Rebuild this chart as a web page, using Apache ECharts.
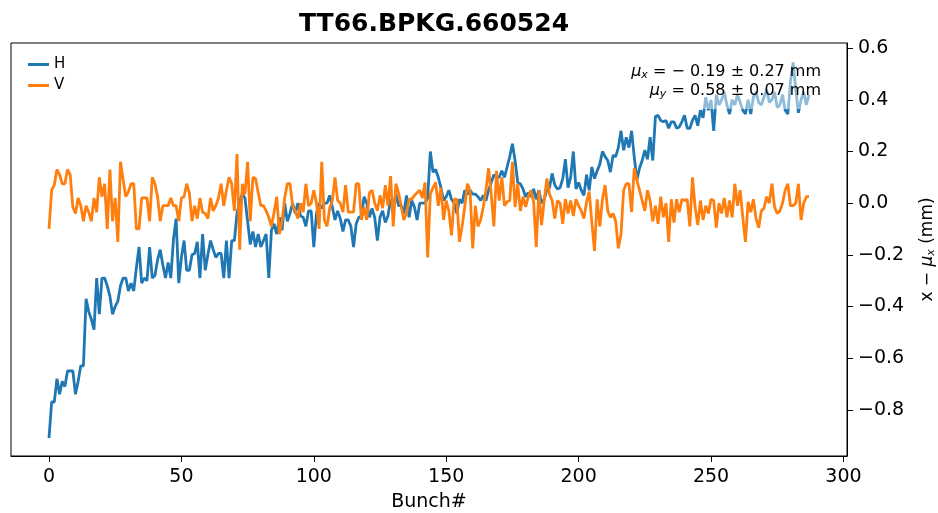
<!DOCTYPE html>
<html>
<head>
<meta charset="utf-8">
<title>TT66.BPKG.660524</title>
<style>
  body { margin: 0; background: #fff; }
  #chart { width: 938px; height: 513px; }
</style>
</head>
<body>
<div id="chart"></div>
<script src="https://cdn.jsdelivr.net/npm/echarts@6/dist/echarts.min.js"></script>
<script>
// H position minus mean, per bunch (mm)
var hValues = [
  -0.91, -0.77, -0.77, -0.68, -0.74, -0.69, -0.71, -0.65, -0.65, -0.65,
  -0.74, -0.69, -0.63, -0.63, -0.37, -0.42, -0.45, -0.49, -0.29, -0.43,
  -0.29, -0.29, -0.32, -0.36, -0.43, -0.40, -0.38, -0.32, -0.29, -0.29,
  -0.34, -0.31, -0.34, -0.25, -0.17, -0.31, -0.29, -0.30, -0.17, -0.29,
  -0.28, -0.22, -0.18, -0.24, -0.29, -0.23, -0.29, -0.14, -0.06, -0.31,
  -0.21, -0.145, -0.26, -0.26, -0.20, -0.195, -0.15, -0.29, -0.12, -0.26,
  -0.20, -0.145, -0.18, -0.21, -0.195, -0.195, -0.29, -0.145, -0.29, -0.145,
  -0.145, -0.04, 0.01, 0.035, 0.02, -0.07, -0.16, -0.11, -0.17, -0.12,
  -0.17, -0.145, -0.12, -0.29, -0.105, -0.08, -0.12, -0.055, -0.105, 0.0,
  -0.07, -0.04, 0.0, -0.04, 0.0, -0.05, -0.055, -0.09, -0.03, -0.03,
  -0.17, -0.04, 0.0, -0.02, 0.0, 0.0, 0.03, -0.015, -0.065, -0.03,
  -0.06, -0.11, -0.065, -0.065, -0.09, -0.17, -0.08, -0.055, -0.05, 0.025,
  0.0, -0.055, -0.02, -0.055, -0.145, -0.055, -0.03, -0.075, -0.05, 0.015,
  -0.02, 0.035, -0.01, -0.01, -0.04, 0.03, -0.055, 0.01, -0.015, -0.065,
  0.0, 0.0, 0.0, 0.02, 0.20, 0.12, 0.13, 0.10, 0.06, 0.01,
  0.025, 0.05, 0.015, 0.0, -0.04, 0.015, 0.0, 0.05, 0.035, 0.05,
  0.035, 0.035, 0.025, 0.01, 0.03, 0.01, 0.05, 0.08, 0.11, 0.10,
  0.10, 0.125, 0.10, 0.14, 0.18, 0.23, 0.165, 0.08, 0.075, 0.055,
  0.025, 0.04, 0.025, 0.055, 0.015, 0.05, 0.0, 0.015, 0.05, 0.06,
  0.115, 0.07, 0.055, 0.06, 0.095, 0.17, 0.06, 0.10, 0.20, 0.055,
  0.08, 0.05, 0.03, 0.11, 0.05, 0.14, 0.095, 0.125, 0.15, 0.20,
  0.18, 0.165, 0.12, 0.185, 0.18, 0.215, 0.28, 0.205, 0.255, 0.215,
  0.28, 0.18, 0.09, 0.135, 0.165, 0.205, 0.17, 0.255, 0.165, 0.335,
  0.34, 0.32, 0.315, 0.32, 0.29, 0.315, 0.315, 0.29, 0.295, 0.315,
  0.34, 0.29, 0.29, 0.32, 0.34, 0.30, 0.36, 0.33, 0.41, 0.36,
  0.40, 0.28, 0.42, 0.38, 0.40, 0.43, 0.38, 0.345, 0.40, 0.38,
  0.42, 0.39, 0.36, 0.345, 0.40, 0.345, 0.41, 0.43, 0.39, 0.38,
  0.41, 0.44, 0.39, 0.40, 0.43, 0.37, 0.38, 0.42, 0.36, 0.345,
  0.47, 0.545, 0.44, 0.35, 0.40, 0.43, 0.38, 0.42
];

// V position minus mean, per bunch (mm)
var vValues = [
  -0.10, 0.05, 0.07, 0.13, 0.11, 0.075, 0.075, 0.13, 0.11, -0.015,
  -0.04, 0.02, -0.01, -0.07, -0.01, -0.035, -0.07, 0.02, -0.035, 0.10,
  0.025, 0.075, -0.10, 0.13, -0.07, 0.02, -0.15, 0.16, 0.09, 0.025,
  0.045, 0.075, 0.075, -0.10, -0.10, 0.02, 0.02, 0.02, -0.07, 0.10,
  0.075, 0.025, -0.07, -0.01, -0.01, -0.01, 0.02, -0.01, -0.01, -0.07,
  0.02, 0.025, 0.075, 0.04, -0.07, -0.01, -0.06, 0.02, -0.035, -0.04,
  -0.06, 0.02, -0.03, -0.01, 0.02, 0.075, -0.01, 0.05, 0.10, 0.075,
  -0.03, 0.19, -0.18, 0.075, 0.035, 0.16, -0.07, 0.10, 0.095, 0.04,
  -0.01, -0.01, -0.03, -0.055, -0.09, -0.035, 0.025, -0.12, -0.07, 0.02,
  0.075, 0.075, -0.01, -0.03, -0.06, 0.0, -0.035, 0.075, -0.01, 0.0,
  0.05, 0.0, -0.10, 0.16, -0.065, -0.09, -0.02, 0.01, 0.10, 0.01,
  0.0, -0.035, 0.07, -0.035, -0.035, -0.035, 0.075, 0.075, -0.065, -0.015,
  -0.065, 0.04, 0.05, 0.0, -0.03, 0.03, -0.02, 0.07, -0.01, 0.105,
  -0.09, 0.075, 0.04, -0.01, -0.065, -0.04, 0.015, 0.015, 0.03, 0.04,
  0.05, 0.02, 0.08, -0.21, 0.035, 0.06, 0.08, -0.01, 0.06, -0.065,
  0.01, -0.03, -0.125, 0.015, 0.015, -0.15, -0.09, -0.015, 0.075, 0.05,
  -0.175, -0.01, -0.09, -0.065, -0.015, 0.05, 0.135, 0.035, -0.09, 0.125,
  0.01, 0.10, -0.01, 0.005, 0.01, 0.16, -0.015, 0.075, -0.03, 0.025,
  -0.015, 0.025, 0.05, 0.005, -0.17, 0.05, -0.085, 0.01, 0.095, 0.035,
  0.01, -0.06, 0.01, 0.0, -0.08, 0.015, -0.04, 0.01, -0.05, 0.015,
  -0.01, -0.03, -0.06, 0.005, 0.045, -0.075, -0.185, 0.015, -0.09, 0.015,
  0.07, -0.03, -0.055, -0.04, -0.07, -0.175, -0.12, 0.05, 0.075, 0.075,
  -0.035, 0.135, 0.09, 0.05, 0.01, -0.03, 0.05, 0.01, -0.07, -0.01,
  -0.08, 0.025, -0.055, 0.0, -0.15, 0.015, -0.075, 0.015, -0.035, 0.015,
  0.01, 0.015, -0.09, 0.10, -0.015, -0.085, 0.01, -0.065, -0.01, -0.04,
  0.015, 0.01, -0.095, 0.0, -0.04, 0.02, -0.055, 0.01, -0.055, 0.075,
  -0.01, 0.05, -0.055, -0.15, 0.005, -0.035, 0.015, -0.06, -0.095, -0.03,
  -0.02, 0.025, 0.0, 0.075, -0.015, -0.04, -0.03, 0.0, 0.05, 0.075,
  -0.01, -0.01, 0.0, 0.075, -0.065, 0.0, 0.025, 0.025
];

var xTicks = [0, 50, 100, 150, 200, 250, 300];
var yTicks = [-0.8, -0.6, -0.4, -0.2, 0.0, 0.2, 0.4, 0.6];

var FONT = 'DejaVu Sans';

function toPairs(arr) {
  return arr.map(function (v, i) { return [i, v]; });
}

function fmtY(v) {
  var s = Math.abs(v).toFixed(1);
  return v < -1e-9 ? '\u2212' + s : s;
}

var chart = echarts.init(document.getElementById('chart'), null, { renderer: 'canvas' });

var noteRich = {
  mu: { fontFamily: FONT, fontStyle: 'italic', fontSize: 16, color: '#000' },
  sub: { fontFamily: FONT, fontStyle: 'italic', fontSize: 11, color: '#000', verticalAlign: 'bottom', padding: [6, 0, 0, 0] },
  t: { fontFamily: FONT, fontSize: 16, color: '#000' }
};

chart.setOption({
  animation: false,
  backgroundColor: '#fff',
  title: {
    text: 'TT66.BPKG.660524',
    left: 429,
    top: 7,
    textAlign: 'center',
    textStyle: { fontFamily: FONT, fontWeight: 'bold', fontSize: 25, color: '#000' }
  },
  legend: {
    data: ['H', 'V'],
    orient: 'vertical',
    left: 23,
    top: 52,
    icon: 'rect',
    itemWidth: 21,
    itemHeight: 3,
    itemGap: 6,
    textStyle: { fontFamily: FONT, fontSize: 15, color: '#000' }
  },
  grid: {
    left: 11,
    right: 91,
    top: 43,
    bottom: 57,
    outerBoundsMode: 'none',
    containLabel: false,
    show: true,
    borderColor: '#000',
    borderWidth: 1,
    backgroundColor: 'transparent'
  },
  xAxis: {
    type: 'value',
    min: -14.35,
    max: 301.35,
    name: 'Bunch#',
    nameLocation: 'middle',
    nameGap: 37,
    nameTextStyle: { fontFamily: FONT, fontSize: 19, color: '#000' },
    axisLine: { show: true, onZero: false, lineStyle: { color: '#000', width: 1 } },
    axisTick: { show: true, inside: false, length: 6, customValues: xTicks, lineStyle: { color: '#000' } },
    axisLabel: {
      customValues: xTicks,
      margin: 12,
      fontFamily: FONT,
      fontSize: 19,
      color: '#000'
    },
    splitLine: { show: false }
  },
  yAxis: {
    type: 'value',
    position: 'right',
    min: -0.979,
    max: 0.62,
    name: '{t|x \u2212 }{mu|\u03bc}{sub|x}{t| (mm)}',
    nameLocation: 'middle',
    nameRotate: 90,
    nameGap: 72,
    nameTextStyle: {
      fontFamily: FONT,
      fontSize: 17,
      color: '#000',
      rich: {
        t: { fontFamily: FONT, fontSize: 17, color: '#000' },
        mu: { fontFamily: FONT, fontSize: 17, fontStyle: 'italic', color: '#000' },
        sub: { fontFamily: FONT, fontSize: 11, fontStyle: 'italic', color: '#000', verticalAlign: 'bottom', padding: [7, 0, 0, 0] }
      }
    },
    axisLine: { show: true, onZero: false, lineStyle: { color: '#000', width: 1 } },
    axisTick: { show: true, inside: false, length: 6, customValues: yTicks, lineStyle: { color: '#000' } },
    axisLabel: {
      customValues: yTicks,
      margin: 11,
      fontFamily: FONT,
      fontSize: 19,
      color: '#000',
      formatter: fmtY
    },
    splitLine: { show: false }
  },
  graphic: [
    {
      type: 'rect',
      z: 50,
      shape: { x: 622, y: 58, width: 204, height: 51 },
      style: { fill: 'rgba(255,255,255,0.5)', stroke: 'none' },
      silent: true
    },
    {
      type: 'text',
      z: 51,
      x: 821,
      y: 72,
      style: {
        text: '{mu|\u03bc}{sub|x}{t| = \u2212 0.19 \u00b1 0.27 mm}',
        align: 'right',
        verticalAlign: 'middle',
        rich: noteRich
      },
      silent: true
    },
    {
      type: 'text',
      z: 51,
      x: 821,
      y: 91,
      style: {
        text: '{mu|\u03bc}{sub|y}{t| = 0.58 \u00b1 0.07 mm}',
        align: 'right',
        verticalAlign: 'middle',
        rich: noteRich
      },
      silent: true
    }
  ],
  series: [
    {
      name: 'H',
      type: 'line',
      data: toPairs(hValues),
      showSymbol: false,
      z: 2,
      lineStyle: { color: '#1f77b4', width: 2.8 },
      itemStyle: { color: '#1f77b4' }
    },
    {
      name: 'V',
      type: 'line',
      data: toPairs(vValues),
      showSymbol: false,
      z: 3,
      lineStyle: { color: '#ff7f0e', width: 2.8 },
      itemStyle: { color: '#ff7f0e' }
    }
  ]
});
</script>
</body>
</html>
